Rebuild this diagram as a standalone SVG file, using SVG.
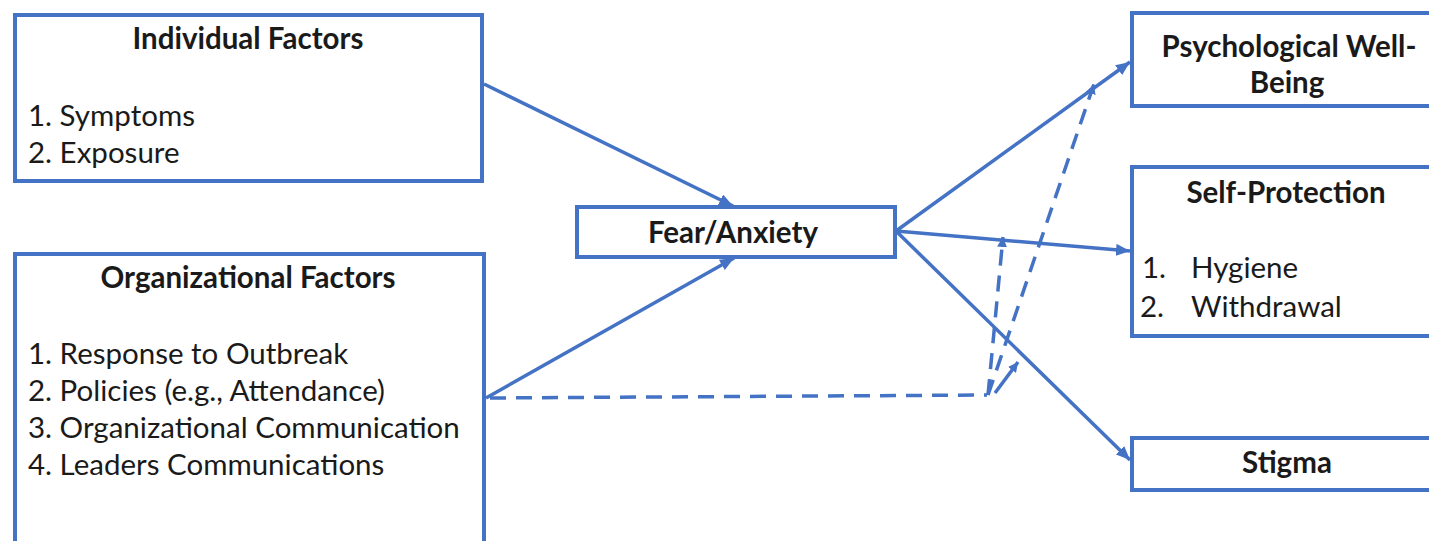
<svg xmlns="http://www.w3.org/2000/svg" width="1429" height="541" viewBox="0 0 1429 541">
<style>
.box{fill:#fff;stroke:#4472C4;stroke-width:4}
.t{font-family:Lato,"Liberation Sans",sans-serif;font-size:29.5px;fill:#1a1a1a}
.b{font-weight:bold;text-anchor:middle}
.c{fill:none;stroke:#4472C4;stroke-width:3.5}
.d{stroke-dasharray:16,10}
</style>
<defs>
<marker id="ah" markerUnits="userSpaceOnUse" markerWidth="16" markerHeight="12" refX="14" refY="6" orient="auto">
<path d="M0,0 L14,6 L0,12 Z" fill="#4472C4"/>
</marker>
<marker id="ahs" markerUnits="userSpaceOnUse" markerWidth="12" markerHeight="10" refX="10" refY="5" orient="auto">
<path d="M0,0 L10,5 L0,10 Z" fill="#4472C4"/>
</marker>
</defs>
<g id="connectors">
<line class="c" x1="484" y1="84" x2="733" y2="206" marker-end="url(#ah)"/>
<line class="c" x1="486" y1="398" x2="734" y2="258" marker-end="url(#ah)"/>
<line class="c" x1="896" y1="231" x2="1130" y2="62" marker-end="url(#ah)"/>
<line class="c" x1="896" y1="231" x2="1130" y2="251" marker-end="url(#ah)"/>
<line class="c" x1="896" y1="231" x2="1130" y2="460" marker-end="url(#ah)"/>
<line class="c d" x1="490" y1="398" x2="987" y2="395"/>
<line class="c d" x1="988" y1="395" x2="1003" y2="237" marker-end="url(#ahs)"/>
<line class="c d" x1="988" y1="395" x2="1094" y2="84" marker-end="url(#ahs)"/>
<line class="c" x1="995" y1="393" x2="1018" y2="362" marker-end="url(#ahs)"/>
</g>
<g id="individual">
<rect class="box" x="15" y="15" width="467" height="166"/>
<text class="t b" x="248" y="49">Individual Factors</text>
<text class="t" x="28" y="126">1. Symptoms</text>
<text class="t" x="28" y="163">2. Exposure</text>
</g>
<g id="organizational">
<rect class="box" x="15" y="254" width="469" height="320"/>
<text class="t b" x="248" y="288">Organizational Factors</text>
<text class="t" x="28" y="364">1. Response to Outbreak</text>
<text class="t" x="28" y="401">2. Policies (e.g., Attendance)</text>
<text class="t" x="28" y="438">3. Organizational Communication</text>
<text class="t" x="28" y="475">4. Leaders Communications</text>
</g>
<g id="fear">
<rect class="box" x="577" y="207" width="318" height="50"/>
<text class="t b" x="733" y="243">Fear/Anxiety</text>
</g>
<g id="psych">
<rect class="box" x="1132" y="13" width="320" height="93"/>
<text class="t b" x="1289" y="57">Psychological Well-</text>
<text class="t b" x="1287" y="93">Being</text>
</g>
<g id="selfprotection">
<rect class="box" x="1132" y="167" width="320" height="169"/>
<text class="t b" x="1286" y="203">Self-Protection</text>
<text class="t" x="1142" y="278">1.</text>
<text class="t" x="1191" y="278">Hygiene</text>
<text class="t" x="1140" y="317">2.</text>
<text class="t" x="1191" y="317">Withdrawal</text>
</g>
<g id="stigma">
<rect class="box" x="1132" y="438" width="320" height="52"/>
<text class="t b" x="1287" y="473">Stigma</text>
</g>
</svg>
